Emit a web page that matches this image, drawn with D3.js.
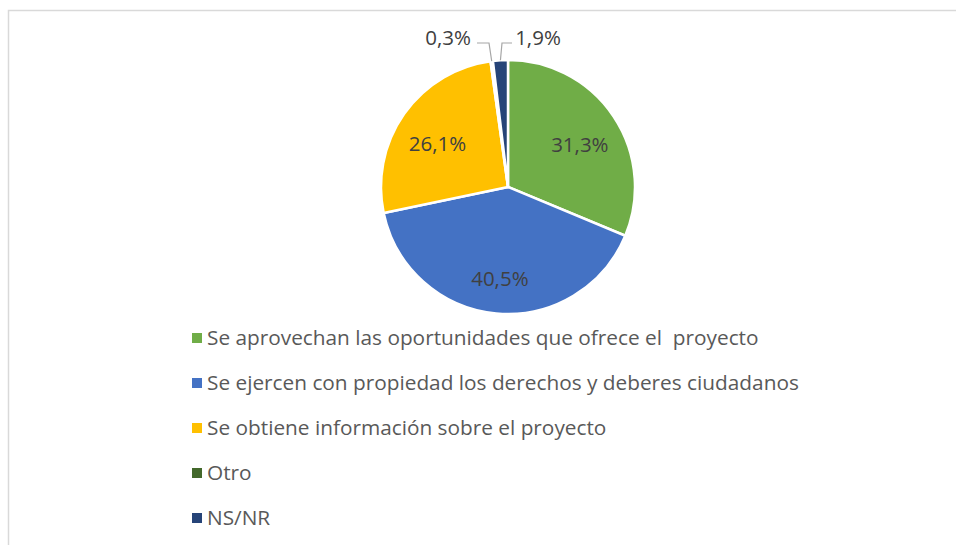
<!DOCTYPE html>
<html>
<head>
<meta charset="utf-8">
<script src="https://cdn.jsdelivr.net/npm/d3@7"></script>
<style>
  body { margin: 0; background: #fff; }
  svg text { font-family: "Open Sans", "Noto Sans", sans-serif; }
</style>
</head>
<body>
<script>
// categorias y valores (%)
var categorias = ["Se aprovechan las oportunidades que ofrece el  proyecto",
    "Se ejercen con propiedad los derechos y deberes ciudadanos",
    "Se obtiene información sobre el proyecto",
    "Otro",
    "NS/NR"];
var valores = [31.3, 40.5, 26.1, 0.3, 1.9];
var colores = ["#70ad47", "#4472c4", "#ffc000", "#43682b", "#264478"];

const Width = 956, Height = 545;
const cx = 508, cy = 187, R = 127;

var svg = d3.select("body").append("svg")
    .attr("width", Width).attr("height", Height);

// marco
svg.append("path")
    .attr("d", "M8.5," + Height + "V10.5H" + Width)
    .attr("fill", "none").attr("stroke", "#d9d9d9").attr("stroke-width", 1.5);

var pie = d3.pie().sort(null).value(d => d);
var arcs = pie(valores);
var arcPath = d3.arc().innerRadius(0).outerRadius(R);
var labelArc = d3.arc().innerRadius(R * 0.68).outerRadius(R * 0.68);

var g = svg.append("g").attr("transform", "translate(" + cx + "," + cy + ")");

g.selectAll("path").data(arcs).enter().append("path")
    .attr("d", arcPath)
    .attr("fill", (d, i) => colores[i])
    .attr("stroke", "#fff").attr("stroke-width", 2.5)
    .attr("stroke-linejoin", "round");

const fmt = v => d3.format(".1f")(v).replace(".", ",") + "%";

// etiquetas dentro
g.selectAll(".DataText").data(arcs.filter(d => d.data > 5)).enter().append("text")
    .attr("class", "DataText")
    .attr("transform", d => "translate(" + labelArc.centroid(d) + ")")
    .attr("text-anchor", "middle").attr("dy", "0.65em")
    .attr("font-size", 20.5).attr("fill", "#404040")
    .text(d => fmt(d.data));

// etiquetas fuera con lineas guia
var outer = [
    { i: 3, lx: -60, side: -1 },
    { i: 4, lx: 30, side: 1 }
];
outer.forEach(o => {
    var a = arcs[o.i];
    var mid = (a.startAngle + a.endAngle) / 2;
    var px = Math.sin(mid) * R, py = -Math.cos(mid) * R;
    var hy = -144;
    var pts = o.side < 0
        ? [[-31, hy], [-19, hy], [px, py]]
        : [[4, hy], [-6, hy], [px, py]];
    g.append("polyline")
        .attr("points", pts.map(p => p.join(",")).join(" "))
        .attr("fill", "none").attr("stroke", "#a6a6a6").attr("stroke-width", 1.2);
    g.append("text")
        .attr("x", o.lx).attr("y", -149).attr("dy", "0.35em")
        .attr("text-anchor", "middle")
        .attr("font-size", 20.5).attr("fill", "#404040")
        .text(fmt(a.data));
});

// leyenda
var legend = svg.append("g").attr("transform", "translate(192,338)");
var items = legend.selectAll("g").data(categorias).enter().append("g")
    .attr("transform", (d, i) => "translate(0," + i * 45 + ")");
items.append("rect").attr("x", 0).attr("y", -5).attr("width", 10).attr("height", 10)
    .attr("fill", (d, i) => colores[i]);
items.append("text").attr("x", 15).attr("dy", "0.35em")
    .attr("font-size", 20.8).attr("fill", "#595959")
    .style("white-space", "pre")
    .text(d => d);
</script>
</body>
</html>
